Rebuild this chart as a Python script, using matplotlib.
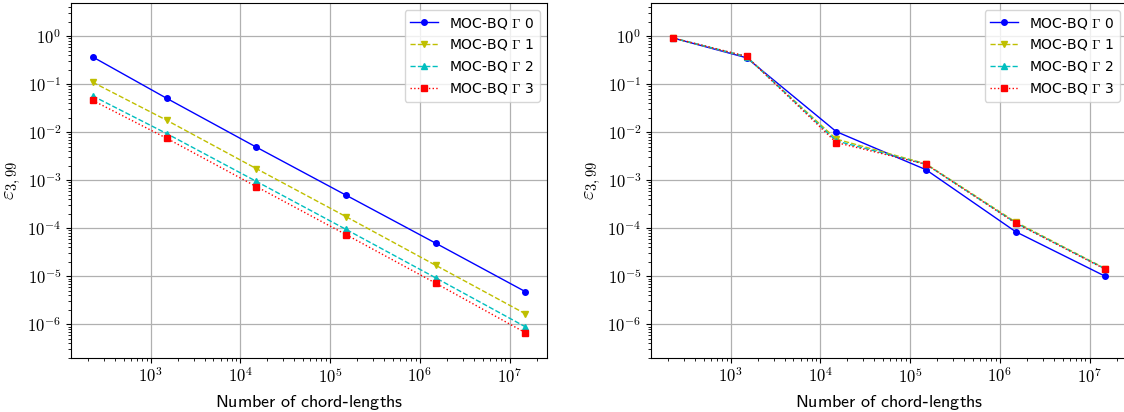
import numpy as np
import matplotlib
matplotlib.use("Agg")
import matplotlib.pyplot as plt
from matplotlib.ticker import FuncFormatter, NullFormatter, FixedLocator, LogLocator

plt.rcParams['mathtext.fontset'] = 'cm'
plt.rcParams['font.family'] = ['DejaVu Sans']

chords = [225, 1500, 15000, 150000, 1500000, 15000000]
labels = [r'MOC-BQ $\Gamma$ 0', r'MOC-BQ $\Gamma$ 1', r'MOC-BQ $\Gamma$ 2', r'MOC-BQ $\Gamma$ 3']
xticks = [1e3, 1e4, 1e5, 1e6, 1e7]
yticks = [1e-6, 1e-5, 1e-4, 1e-3, 1e-2, 1e-1, 1e0]

left_g0 = [0.37, 0.051, 0.0049, 4.9e-4, 4.9e-5, 4.8e-6]
left_g1 = [0.11, 0.0178, 0.00175, 1.75e-4, 1.7e-5, 1.66e-6]
left_g2 = [0.057, 0.0094, 9.5e-4, 9.5e-5, 9.3e-6, 8.9e-7]
left_g3 = [0.046, 0.0075, 7.4e-4, 7.4e-5, 7.2e-6, 6.7e-7]

right_g0 = [0.92, 0.355, 0.0103, 0.00166, 8.5e-5, 1.0e-5]
right_g1 = [0.92, 0.37, 0.0072, 0.0022, 1.35e-4, 1.45e-5]
right_g2 = [0.92, 0.375, 0.0066, 0.00215, 1.3e-4, 1.42e-5]
right_g3 = [0.92, 0.38, 0.0061, 0.00215, 1.28e-4, 1.4e-5]

styles = [dict(color='b', marker='o', linestyle='-'),
          dict(color='y', marker='v', linestyle='--'),
          dict(color='c', marker='^', linestyle='--'),
          dict(color='r', marker='s', linestyle=':')]

fig = plt.figure(figsize=(11.24, 4.12), dpi=100)
W, H = 1124, 412
axL = fig.add_axes([71 / W, (H - 358) / H, 476 / W, 355 / H])
axR = fig.add_axes([651 / W, (H - 358) / H, 476 / W, 355 / H])

for ax, series in [(axL, [left_g0, left_g1, left_g2, left_g3]),
                   (axR, [right_g0, right_g1, right_g2, right_g3])]:
    for ys, st, lab in zip(series, styles, labels):
        ax.plot(chords, ys, label=lab, linewidth=1.0, markersize=4, **st)
    ax.set_xscale('log')
    ax.set_yscale('log')
    ax.set_ylim(10 ** -6.7, 10 ** 0.69)
    ax.xaxis.set_major_locator(FixedLocator(xticks))
    ax.yaxis.set_major_locator(FixedLocator(yticks))
    ax.xaxis.set_minor_locator(LogLocator(base=10, subs=np.arange(2, 10), numticks=20))
    ax.yaxis.set_minor_locator(LogLocator(base=10, subs=np.arange(2, 10), numticks=20))
    ax.grid(True, which='major', color='#b0b0b0', linewidth=0.9)
    fmt = FuncFormatter(lambda v, p: r'$10^{%d}$' % int(round(np.log10(v))))
    ax.xaxis.set_major_formatter(fmt)
    ax.yaxis.set_major_formatter(fmt)
    ax.xaxis.set_minor_formatter(NullFormatter())
    ax.yaxis.set_minor_formatter(NullFormatter())
    ax.tick_params(labelsize=12)
    ax.set_xlabel(r'$\mathsf{Number\ of\ chord}$-$\mathsf{lengths}$', fontsize=13)
    ax.set_ylabel(r'$\varepsilon_{3,99}$', fontsize=15, labelpad=3)
    ax.legend(loc='upper right', fontsize=10)

fig.savefig('out.png', dpi=100)
